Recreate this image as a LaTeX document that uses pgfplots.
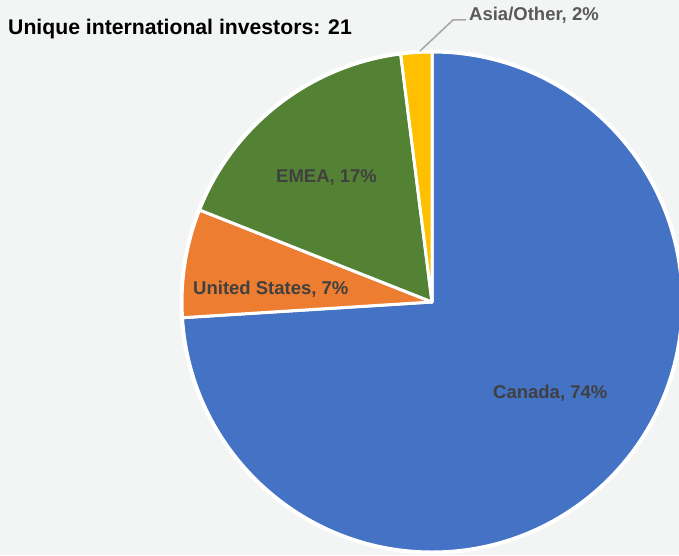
\documentclass[border=0pt]{standalone}
\usepackage{pgfplots}
\pgfplotsset{compat=1.18}
\usepackage{pgfplotstable}
\usepackage{fontspec}
\setmainfont{Liberation Sans}
\definecolor{bgcol}{HTML}{F2F5F3}
\definecolor{canada}{HTML}{4472C4}
\definecolor{usa}{HTML}{ED7D31}
\definecolor{emea}{HTML}{548235}
\definecolor{asia}{HTML}{FFC000}
\definecolor{lbl}{HTML}{404040}
\definecolor{lbl2}{HTML}{595959}
\definecolor{leader}{HTML}{A6A6A6}

% share of unique international investors, clockwise from 12 o'clock
\pgfplotstableread{
share colour
74 canada
7 usa
17 emea
2 asia
}\piedata

\begin{document}
\begin{tikzpicture}
\begin{axis}[
  x=1pt,y=1pt,
  xmin=0,xmax=679,ymin=0,ymax=555,
  hide axis,clip=true]
\fill[bgcol] (rel axis cs:0,0) rectangle (rel axis cs:1,1);
\gdef\curang{90}
\pgfplotstableforeachcolumnelement{share}\of\piedata\as\s{%
  \pgfplotstablegetelem{\pgfplotstablerow}{colour}\of\piedata
  \let\col\pgfplotsretval
  \pgfmathsetmacro\nextang{\curang-3.6*\s}%
  \edef\cmd{\noexpand\fill[\col,draw=white,line width=3pt,line join=round]
    (axis cs:432,253) -- (axis cs:{432+250*cos(\curang)},{253+250*sin(\curang)})
    arc[start angle=\curang,end angle=\nextang,radius=250pt] -- cycle;}%
  \cmd
  \xdef\curang{\nextang}%
}
\draw[white,line width=3pt] (axis cs:432,253) circle[radius=251pt];
\draw[leader,line width=1.5pt] (axis cs:420,504) -- (axis cs:453,535) -- (axis cs:466,535);
\node[anchor=base west,inner sep=0pt,font=\fontsize{21.2}{25}\selectfont\bfseries,text=black]
  at (axis cs:8,520) {Unique international investors: 21};
\node[anchor=base west,inner sep=0pt,font=\fontsize{18.5}{22}\selectfont\bfseries,text=lbl2]
  at (axis cs:469,534) {Asia/Other, 2\%};
\node[anchor=base west,inner sep=0pt,font=\fontsize{18.5}{22}\selectfont\bfseries,text=lbl]
  at (axis cs:276,372) {EMEA, 17\%};
\node[anchor=base west,inner sep=0pt,font=\fontsize{18.5}{22}\selectfont\bfseries,text=lbl]
  at (axis cs:193,261) {United States, 7\%};
\node[anchor=base west,inner sep=0pt,font=\fontsize{18.5}{22}\selectfont\bfseries,text=lbl]
  at (axis cs:493,157) {Canada, 74\%};
\end{axis}
\end{tikzpicture}
\end{document}
